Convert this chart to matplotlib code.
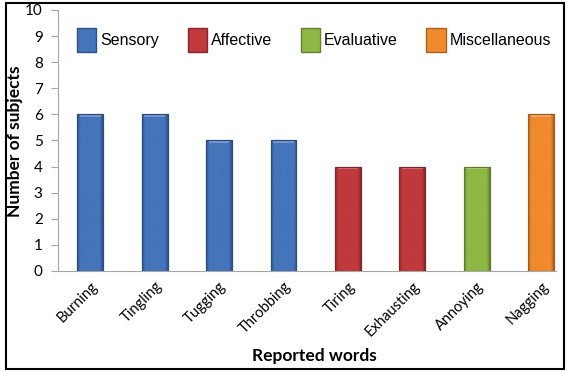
import numpy as np
import matplotlib
matplotlib.use("Agg")
import matplotlib.pyplot as plt
from matplotlib.patches import Rectangle, Patch
from matplotlib.colors import to_rgb

# Reported pain words and the number of subjects using each
words = ["Burning", "Tingling", "Tugging", "Throbbing",
         "Tiring", "Exhausting", "Annoying", "Nagging"]
counts = [6, 6, 5, 5, 4, 4, 4, 6]
groups = ["Sensory", "Sensory", "Sensory", "Sensory",
          "Affective", "Affective", "Evaluative", "Miscellaneous"]
group_names = ["Sensory", "Affective", "Evaluative", "Miscellaneous"]
group_colors = {"Sensory": "#4474BA", "Affective": "#C0393B",
                "Evaluative": "#8DB843", "Miscellaneous": "#F08A2C"}

W, H = 568, 371
fig = plt.figure(figsize=(W / 100, H / 100), dpi=100)
ax = fig.add_axes([58 / W, 1 - 271 / H, (556 - 58) / W, (271 - 10) / H])


def shade(c, f):
    r = np.array(to_rgb(c))
    if f >= 0:
        return tuple(r + (1 - r) * f)
    return tuple(r * (1 + f))


x = np.arange(len(words))
bars = ax.bar(x, counts, width=0.40,
              color=[group_colors[g] for g in groups],
              edgecolor=[shade(group_colors[g], -0.3) for g in groups],
              linewidth=0.8, zorder=2)

# Beveled look: horizontal shading across each bar plus a light cap on top
for b, g in zip(bars, groups):
    c = group_colors[g]
    x0, w, h = b.get_x(), b.get_width(), b.get_height()
    t = np.linspace(0, 1, 64)
    prof = np.clip(np.minimum(t, 1 - t) / 0.12, 0, 1)
    img = np.array([[shade(c, -0.28 + 0.28 * p) for p in prof]])
    im = ax.imshow(img, extent=(x0, x0 + w, 0, h), aspect="auto",
                   interpolation="bilinear", zorder=2.5)
    im.set_clip_path(b)
    cap = Rectangle((x0 + w * 0.1, h - 0.1), w * 0.8, 0.07,
                    facecolor=shade(c, 0.25), edgecolor="none", zorder=3)
    ax.add_patch(cap)
    cap.set_clip_path(b)
    ax.add_patch(Rectangle((x0, 0), w, h, facecolor="none",
                           edgecolor=shade(c, -0.35), linewidth=0.8, zorder=3.5))

ax.set_xlim(-0.5, 7.23)
ax.set_ylim(0, 10)
ax.set_yticks(range(0, 11))
ax.set_xticks(x)
ax.set_xticklabels(words, rotation=45, ha="right", rotation_mode="anchor",
                   fontsize=10.5, family="Lato")
for lab in ax.get_yticklabels():
    lab.set_family("Lato")
    lab.set_fontsize(11)
ax.tick_params(axis="x", length=0, pad=6)
ax.tick_params(axis="y", length=5, color="#A6A6A6", pad=6)

for s in ("top", "right"):
    ax.spines[s].set_visible(False)
ax.spines["left"].set_color("#A6A6A6")
ax.spines["bottom"].set_color("#A6A6A6")

fig.text(15 / W, 1 - 141 / H, "Number of subjects", rotation=90,
         ha="center", va="center", fontsize=12.5, fontweight="bold", family="Lato")
fig.text(314 / W, 1 - 356 / H, "Reported words", ha="center", va="center",
         fontsize=12.5, fontweight="bold", family="Lato")

handles = [Patch(facecolor=group_colors[n], edgecolor=shade(group_colors[n], -0.3))
           for n in group_names]
ax.legend(handles, group_names, loc="center", bbox_to_anchor=(314 / W, 1 - 40 / H),
          bbox_transform=fig.transFigure, ncol=4, frameon=False,
          prop={"family": "Liberation Sans", "size": 11.5},
          handlelength=1.2, handleheight=2.0, handletextpad=0.25,
          columnspacing=1.8)

fig.add_artist(Rectangle((6 / W, 1 - 369 / H), (564 - 6) / W, (369 - 3) / H,
                         transform=fig.transFigure, facecolor="none",
                         edgecolor="black", linewidth=1.5))

fig.savefig("out.png", dpi=100)
